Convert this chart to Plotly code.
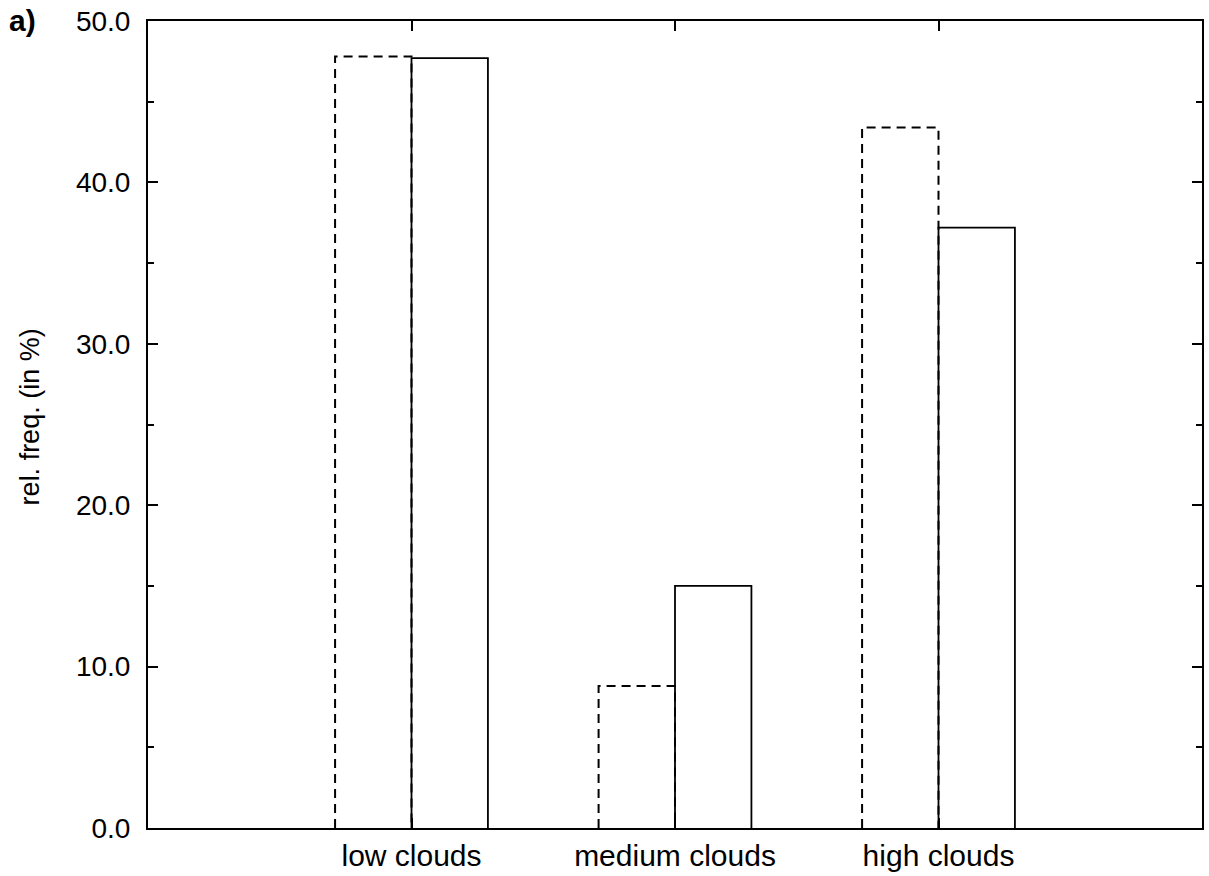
import plotly.graph_objects as go

categories = ["low clouds", "medium clouds", "high clouds"]
dashed_values = [47.8, 8.8, 43.4]
solid_values = [47.7, 15.0, 37.2]
y_tick_labels = ["0.0", "10.0", "20.0", "30.0", "40.0", "50.0"]

cat_pos = [1, 2, 3]
bar_w = 0.29

def rect(x0, x1, h):
    return [x0, x0, x1, x1], [0, h, h, 0]

fig = go.Figure()

for p, v in zip(cat_pos, dashed_values):
    xs, ys = rect(p - bar_w, p, v)
    fig.add_trace(go.Scatter(x=xs, y=ys, mode="lines",
                             line=dict(color="black", width=2, dash="9px,6px"),
                             showlegend=False, hoverinfo="skip"))
for p, v in zip(cat_pos, solid_values):
    xs, ys = rect(p, p + bar_w, v)
    fig.add_trace(go.Scatter(x=xs, y=ys, mode="lines",
                             line=dict(color="black", width=1.8),
                             showlegend=False, hoverinfo="skip"))

fig.update_layout(
    width=1209, height=876,
    margin=dict(l=148, r=7, t=21, b=48),
    paper_bgcolor="white", plot_bgcolor="white",
    font=dict(family="Liberation Sans, Arial, sans-serif", color="black"),
    showlegend=False,
)
fig.update_xaxes(
    range=[0, 4], tickvals=cat_pos, ticktext=categories, automargin=False,
    showgrid=False, zeroline=False, showline=True, linecolor="black", linewidth=2,
    mirror="ticks", ticks="inside", ticklen=10, tickwidth=1.5, tickcolor="black",
    tickfont=dict(size=30), ticklabelstandoff=0, ticklabeloverflow="allow",
)
fig.update_yaxes(
    range=[0, 50], tickvals=[0, 10, 20, 30, 40, 50], ticktext=y_tick_labels, automargin=False,
    showgrid=False, zeroline=False, showline=True, linecolor="black", linewidth=2,
    mirror="ticks", ticks="inside", ticklen=10, tickwidth=1.5, tickcolor="black",
    tickfont=dict(size=28), ticklabelstandoff=10, ticklabeloverflow="allow",
    minor=dict(tickvals=[5, 15, 25, 35, 45], ticks="inside", ticklen=6, tickwidth=1.5, tickcolor="black"),
)
fig.add_annotation(text="rel. freq. (in %)", xref="paper", yref="paper", x=-0.112, y=0.51,
                   xanchor="center", yanchor="middle", textangle=-90, showarrow=False,
                   font=dict(size=27, color="black"))
fig.add_annotation(text="<b>a)</b>", xref="paper", yref="paper", x=-0.1186, y=1.001,
                   xanchor="center", yanchor="middle", showarrow=False,
                   font=dict(size=30, color="black"))

fig.write_html(
    "out.html",
    config={"displayModeBar": False},
    post_script="document.body.style.margin='0';document.body.style.overflow='hidden';",
)
